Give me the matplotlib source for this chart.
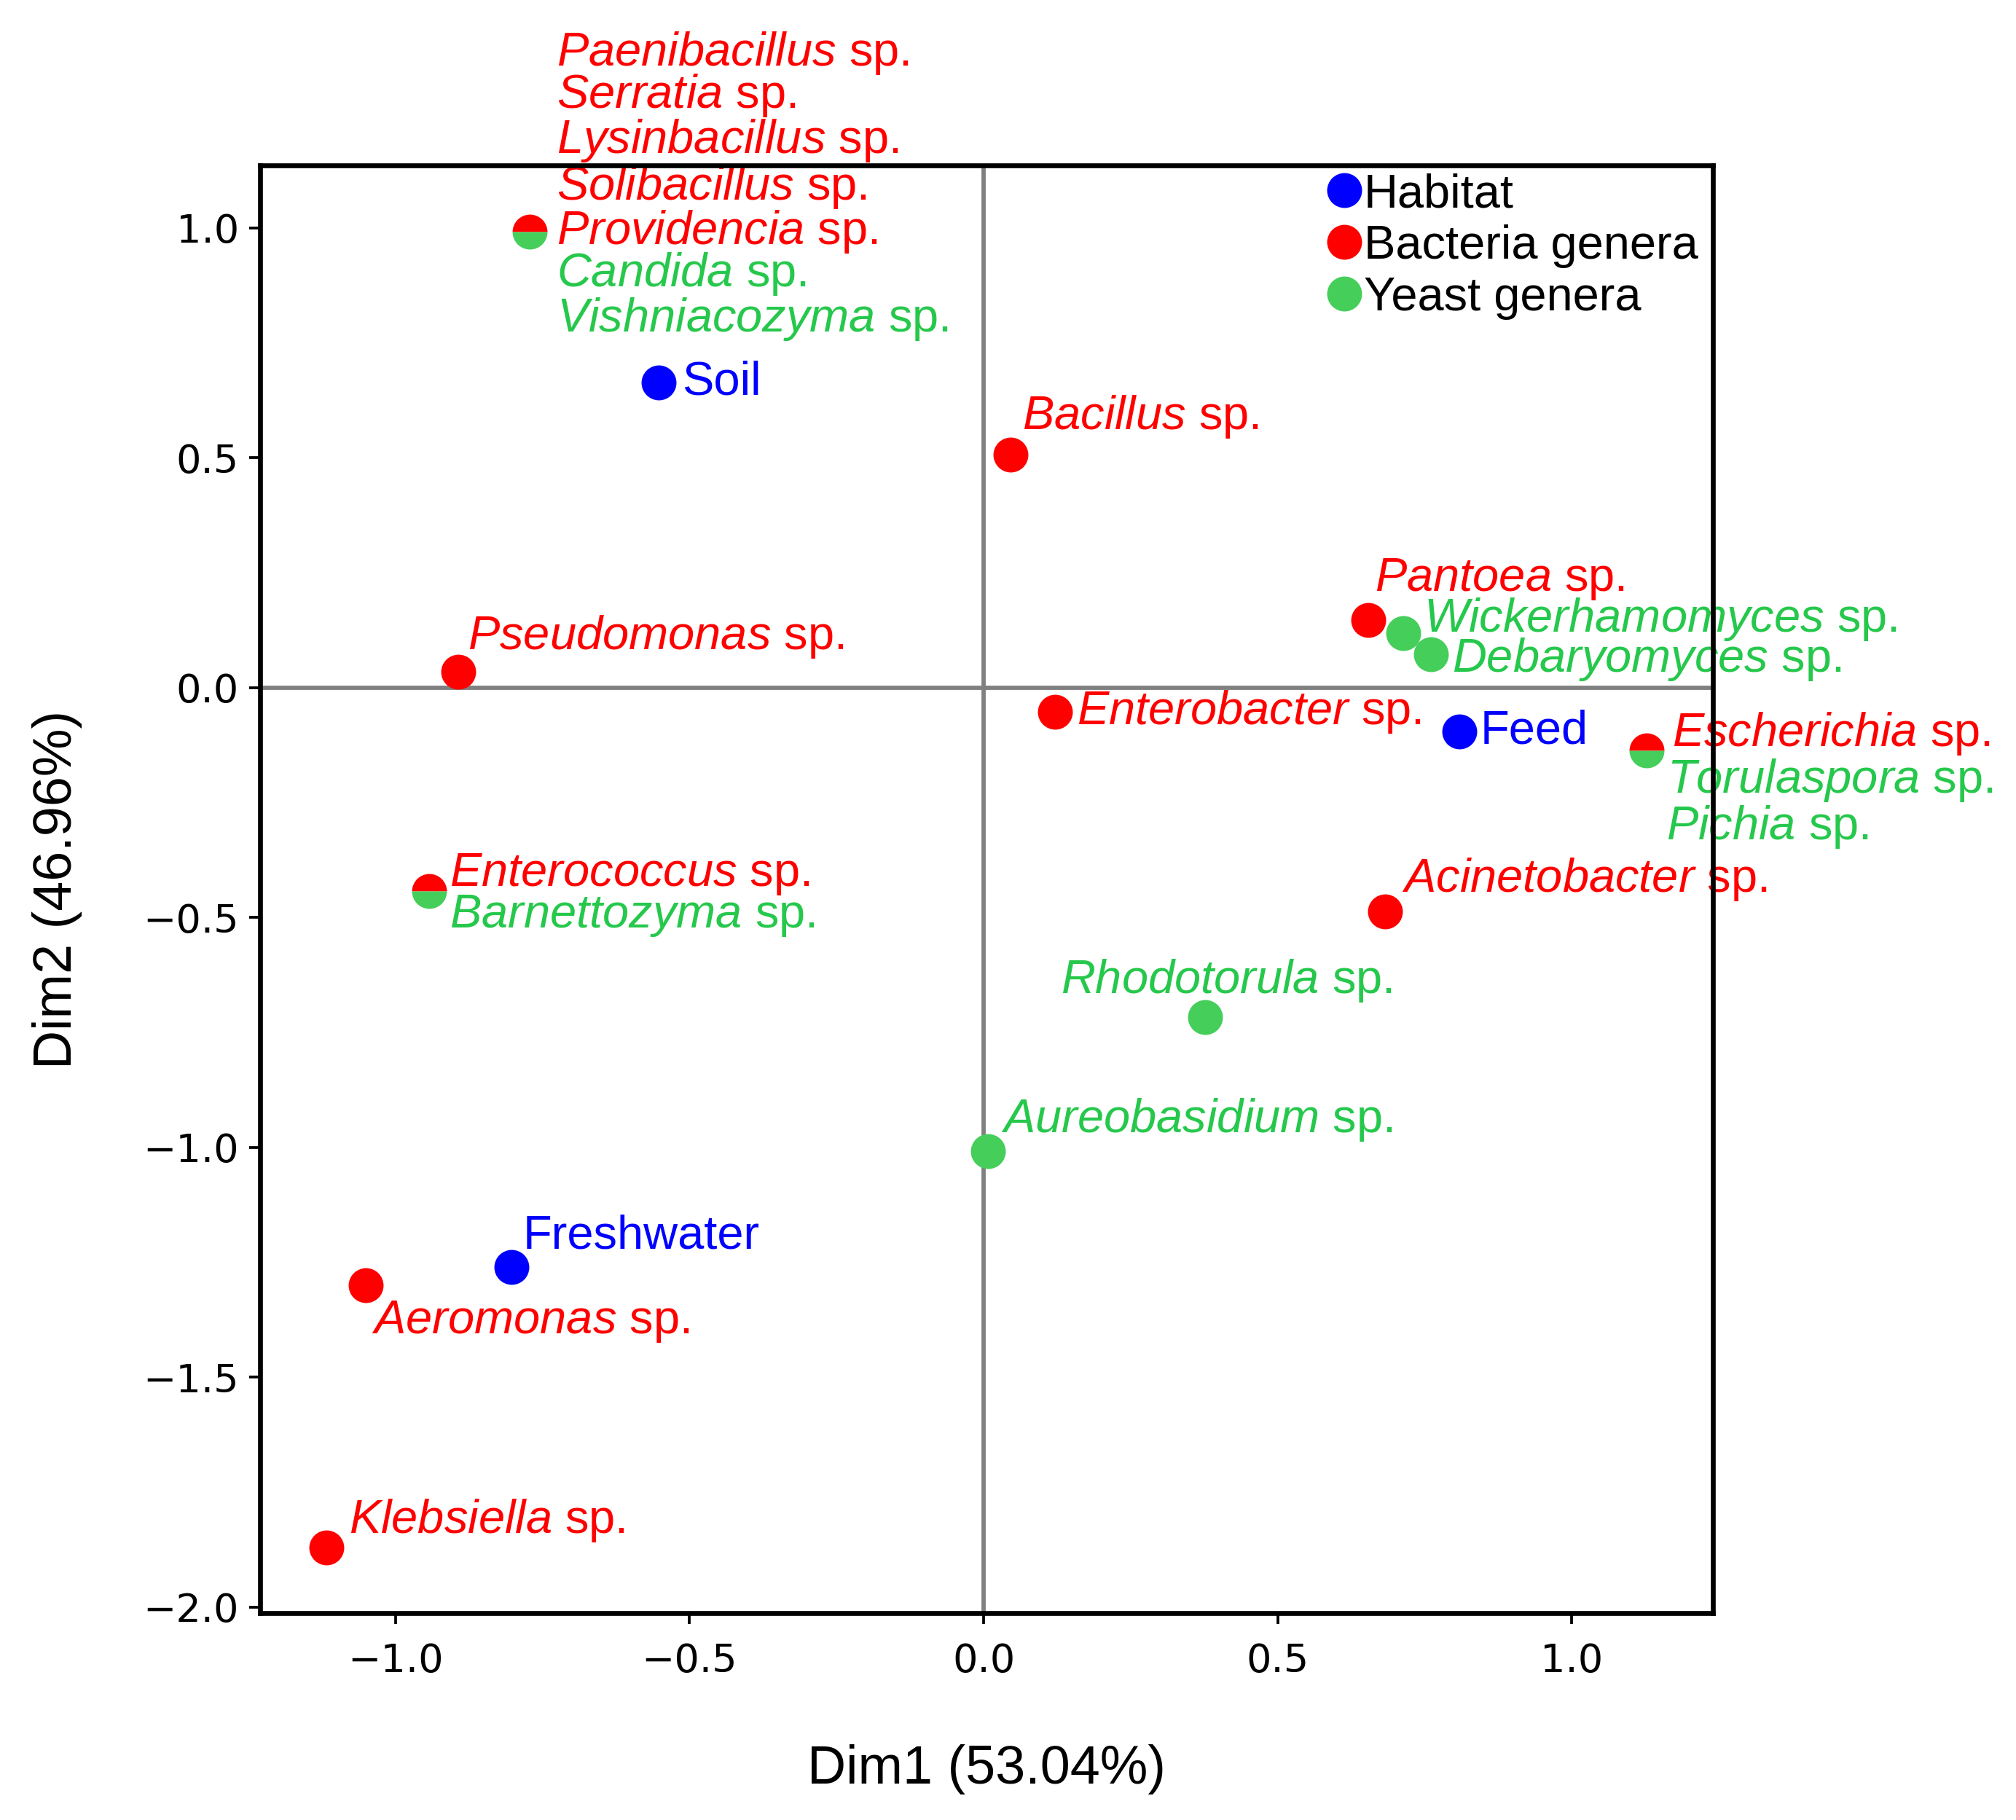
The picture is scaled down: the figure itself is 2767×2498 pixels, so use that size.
import numpy as np
import matplotlib.pyplot as plt

plt.rcParams['font.family'] = ['Liberation Sans', 'DejaVu Sans']
plt.rcParams['mathtext.fontset'] = 'custom'
plt.rcParams['mathtext.it'] = 'Liberation Sans:italic'
plt.rcParams['mathtext.rm'] = 'Liberation Sans'

RED = '#FF0000'
BLUE = '#0000FF'
GREEN = '#45CE5A'
GREEN_TXT = '#26C84C'

# ----------------------------
# Correspondence analysis coordinates
# ----------------------------
habitat_names = ['Soil', 'Feed', 'Freshwater']
habitat_x = [-0.553, 0.809, -0.803]
habitat_y = [0.664, -0.095, -1.261]

bacteria_names = ['Bacillus', 'Pantoea', 'Pseudomonas', 'Enterobacter',
                  'Acinetobacter', 'Aeromonas', 'Klebsiella']
bacteria_x = [0.046, 0.654, -0.893, 0.121, 0.682, -1.050, -1.118]
bacteria_y = [0.507, 0.146, 0.034, -0.053, -0.487, -1.300, -1.871]

yeast_names = ['Wickerhamomyces', 'Debaryomyces', 'Rhodotorula', 'Aureobasidium']
yeast_x = [0.713, 0.761, 0.377, 0.007]
yeast_y = [0.118, 0.073, -0.717, -1.008]

# points shared by bacteria (top half) and yeast (bottom half)
shared_x = [-0.772, 1.127, -0.943]
shared_y = [0.992, -0.137, -0.443]
shared_bacteria = [['Paenibacillus', 'Serratia', 'Lysinbacillus', 'Solibacillus', 'Providencia'],
                   ['Escherichia'],
                   ['Enterococcus']]
shared_yeast = [['Candida', 'Vishniacozyma'],
                ['Torulaspora', 'Pichia'],
                ['Barnettozyma']]

# label offsets (in pixels of a 1560 px wide view, converted below)
PX = 0.4258
habitat_off = [(18, 0), (16, 0), (9, -24)]
bacteria_off = [(9, -29), (5, -32), (7, -27), (17, 0), (13, -25), (4, 28), (18, -21)]
yeast_off = [(16, -11), (16, 4), (-112, -28), (10, -24)]
shared_b_off = [[(21, -138), (21, -105), (21, -70), (21, -34), (21, 0)],
                [(20, -13)],
                [(16, -13)]]
shared_y_off = [[(21, 33), (21, 68)],
                [(16, 23), (15, 59)],
                [(16, 19)]]

LABEL_FS = 15.6


def sp(name):
    return r'$\mathit{' + name + r'}$ sp.'


def put(ax, x, y, text, off, color):
    ax.annotate(text, (x, y), xytext=(off[0] * PX, -off[1] * PX),
                textcoords='offset points', ha='left', va='center',
                color=color, fontsize=LABEL_FS, annotation_clip=False, zorder=3)


fig = plt.figure(figsize=(2767 / 300, 2498 / 300), dpi=300)
ax = fig.add_axes([0.129, 0.1135, 0.7205, 0.7955])

ax.axhline(0, color='#808080', lw=1.4, zorder=1)
ax.axvline(0, color='#808080', lw=1.4, zorder=1)

ms = 11.5
ax.plot(habitat_x, habitat_y, 'o', color=BLUE, ms=ms, mec='none', label='Habitat', zorder=2)
ax.plot(bacteria_x, bacteria_y, 'o', color=RED, ms=ms, mec='none', label='Bacteria genera', zorder=2)
ax.plot(yeast_x, yeast_y, 'o', color=GREEN, ms=ms, mec='none', label='Yeast genera', zorder=2)
ax.plot(shared_x, shared_y, 'o', ms=ms, mec='none', fillstyle='top',
        markerfacecolor=RED, markerfacecoloralt=GREEN, zorder=2)

for x, y, n, o in zip(habitat_x, habitat_y, habitat_names, habitat_off):
    put(ax, x, y, n, o, BLUE)
for x, y, n, o in zip(bacteria_x, bacteria_y, bacteria_names, bacteria_off):
    put(ax, x, y, sp(n), o, RED)
for x, y, n, o in zip(yeast_x, yeast_y, yeast_names, yeast_off):
    put(ax, x, y, sp(n), o, GREEN_TXT)
for i in range(len(shared_x)):
    for n, o in zip(shared_bacteria[i], shared_b_off[i]):
        put(ax, shared_x[i], shared_y[i], sp(n), o, RED)
    for n, o in zip(shared_yeast[i], shared_y_off[i]):
        put(ax, shared_x[i], shared_y[i], sp(n), o, GREEN_TXT)

ax.set_xticks([-1.0, -0.5, 0.0, 0.5, 1.0])
ax.set_yticks([1.0, 0.5, 0.0, -0.5, -1.0, -1.5, -2.0])
for lab in ax.get_xticklabels() + ax.get_yticklabels():
    lab.set_fontfamily('DejaVu Sans')
ax.tick_params(labelsize=13, length=3.5, width=0.9)
ax.tick_params(axis='x', pad=6)

for s in ax.spines.values():
    s.set_linewidth(1.6)
    s.set_zorder(4)

ax.set_xlabel('Dim1 (53.04%)', fontsize=17.7, labelpad=21)
ax.set_ylabel('Dim2 (46.96%)', fontsize=17.7, labelpad=20)

ax.legend(loc='upper right', bbox_to_anchor=(0.995, 1.0), frameon=False,
          fontsize=LABEL_FS, handlelength=0.6, handletextpad=0.12,
          labelspacing=0.17, borderpad=0.15, borderaxespad=0.0)

fig.savefig('out.png', dpi=300)
